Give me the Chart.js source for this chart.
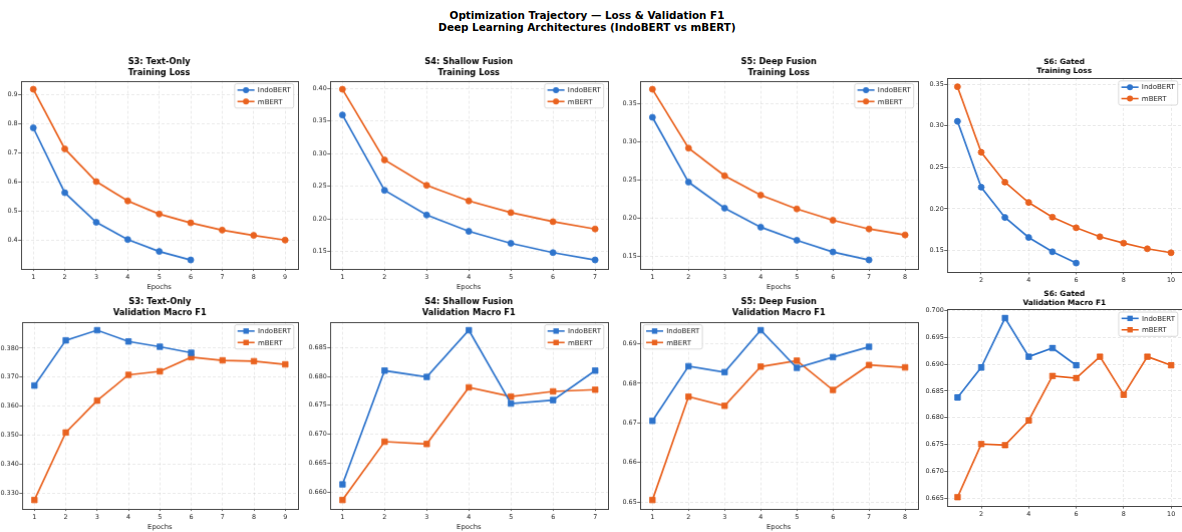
<!DOCTYPE html>
<html>
<head>
<meta charset="utf-8">
<script src="https://cdn.jsdelivr.net/npm/chart.js@4.4.0/dist/chart.umd.min.js"></script>
<style>
  body { margin: 0; background: #fff; width: 1182px; height: 532px; overflow: hidden; position: relative; }
  #sup { position: absolute; left: -4px; top: 9px; width: 1182px; text-align: center;
         font-family: "DejaVu Sans"; font-weight: bold; font-size: 10.4px; line-height: 12px; color: #000; }
  .panel { position: absolute; }
</style>
</head>
<body>
<div id="sup">Optimization Trajectory — Loss &amp; Validation F1<br>Deep Learning Architectures (IndoBERT vs mBERT)</div>
<script>
// epochs per scenario
const s3Epochs = [1, 2, 3, 4, 5, 6, 7, 8, 9];
const s4Epochs = [1, 2, 3, 4, 5, 6, 7];
const s5Epochs = [1, 2, 3, 4, 5, 6, 7, 8];
const s6Epochs = [1, 2, 3, 4, 5, 6, 7, 8, 9, 10];

// training loss
const s3LossIndo = [0.785, 0.563, 0.462, 0.403, 0.362, 0.333];
const s3LossMbert = [0.917, 0.713, 0.601, 0.535, 0.490, 0.460, 0.435, 0.417, 0.401];
const s4LossIndo = [0.3595, 0.2437, 0.2058, 0.1807, 0.1623, 0.1480, 0.1367];
const s4LossMbert = [0.3990, 0.2904, 0.2514, 0.2274, 0.2095, 0.1956, 0.1843];
const s5LossIndo = [0.3317, 0.2472, 0.2133, 0.1885, 0.1714, 0.1561, 0.1457];
const s5LossMbert = [0.3683, 0.2916, 0.2554, 0.2302, 0.2123, 0.1975, 0.1861, 0.1783];
const s6LossIndo = [0.3052, 0.2260, 0.1896, 0.1656, 0.1484, 0.1348];
const s6LossMbert = [0.3468, 0.2680, 0.2320, 0.2076, 0.1900, 0.1772, 0.1664, 0.1588, 0.1520, 0.1472];

// validation macro F1
const s3F1Indo = [0.3671, 0.3827, 0.3862, 0.3823, 0.3805, 0.3784];
const s3F1Mbert = [0.3276, 0.3509, 0.3619, 0.3708, 0.3720, 0.3769, 0.3758, 0.3755, 0.3744];
const s4F1Indo = [0.6613, 0.6810, 0.6799, 0.6880, 0.6753, 0.6759, 0.6810];
const s4F1Mbert = [0.6586, 0.6687, 0.6683, 0.6781, 0.6765, 0.6774, 0.6777];
const s5F1Indo = [0.6705, 0.6843, 0.6828, 0.6934, 0.6839, 0.6866, 0.6892];
const s5F1Mbert = [0.6505, 0.6766, 0.6743, 0.6842, 0.6857, 0.6783, 0.6846, 0.6840];
const s6F1Indo = [0.6838, 0.6894, 0.6986, 0.6914, 0.6930, 0.6898];
const s6F1Mbert = [0.6652, 0.6751, 0.6749, 0.6795, 0.6878, 0.6874, 0.6914, 0.6843, 0.6914, 0.6898];

const seriesNames = ['IndoBERT', 'mBERT'];
const BLUE = '#2e74cc';
const ORANGE = '#e9621f';
const FONT = '"DejaVu Sans"';

const panels = [
  { title: ['S3: Text-Only', 'Training Loss'], ep: s3Epochs, a: s3LossIndo, b: s3LossMbert, mk: 'circle',
    box: [21, 81, 297, 268], yStep: 0.1, dec: 1, xStep: 1, xlabel: true, tSize: 8.3, tPad: 2.5, leg: 'right' },
  { title: ['S4: Shallow Fusion', 'Training Loss'], ep: s4Epochs, a: s4LossIndo, b: s4LossMbert, mk: 'circle',
    box: [330, 81, 607, 268], yStep: 0.05, dec: 2, xStep: 1, xlabel: true, tSize: 8.3, tPad: 2.5, leg: 'right' },
  { title: ['S5: Deep Fusion', 'Training Loss'], ep: s5Epochs, a: s5LossIndo, b: s5LossMbert, mk: 'circle',
    box: [640, 81, 917, 268], yStep: 0.05, dec: 2, xStep: 1, xlabel: true, tSize: 8.3, tPad: 2.5, leg: 'right' },
  { title: ['S6: Gated', 'Training Loss'], ep: s6Epochs, a: s6LossIndo, b: s6LossMbert, mk: 'circle',
    box: [947, 78, 1181, 272], yStep: 0.05, dec: 2, xStep: 2, xlabel: false, tSize: 7.4, tPad: 3, leg: 'right' },
  { title: ['S3: Text-Only', 'Validation Macro F1'], ep: s3Epochs, a: s3F1Indo, b: s3F1Mbert, mk: 'rect',
    box: [22, 322, 297, 508], yStep: 0.01, dec: 3, xStep: 1, xlabel: true, tSize: 8.3, tPad: 3.5, leg: 'right' },
  { title: ['S4: Shallow Fusion', 'Validation Macro F1'], ep: s4Epochs, a: s4F1Indo, b: s4F1Mbert, mk: 'rect',
    box: [330, 322, 607, 508], yStep: 0.005, dec: 3, xStep: 1, xlabel: true, tSize: 8.3, tPad: 3.5, leg: 'right' },
  { title: ['S5: Deep Fusion', 'Validation Macro F1'], ep: s5Epochs, a: s5F1Indo, b: s5F1Mbert, mk: 'rect',
    box: [640, 322, 917, 508], yStep: 0.01, dec: 2, xStep: 1, xlabel: true, tSize: 8.3, tPad: 3.5, leg: 'left' },
  { title: ['S6: Gated', 'Validation Macro F1'], ep: s6Epochs, a: s6F1Indo, b: s6F1Mbert, mk: 'rect',
    box: [947, 309, 1181, 506], yStep: 0.005, dec: 3, xStep: 2, xlabel: false, tSize: 7.4, tPad: 2.2, leg: 'right' }
];

// frame on all four sides + matplotlib-like legend inside the axes
const axesDecor = {
  id: 'axesDecor',
  afterDraw(chart) {
    const o = chart.options.plugins.axesDecor;
    const ctx = chart.ctx, ca = chart.chartArea;
    ctx.save();
    ctx.strokeStyle = '#444';
    ctx.lineWidth = 1;
    ctx.strokeRect(Math.round(ca.left) + 0.5, Math.round(ca.top) + 0.5,
      Math.round(ca.right - ca.left), Math.round(ca.bottom - ca.top));

    ctx.font = '7px ' + FONT;
    const sets = chart.data.datasets;
    const tw = Math.max(...sets.map(d => ctx.measureText(d.label).width));
    const pad = 2.8, handle = 17, gap = 3.2, row = 11.4;
    const w = pad + handle + gap + tw + pad;
    const h = row * sets.length + 1.4;
    const x = o.leg === 'left' ? ca.left + 3.5 : ca.right - 4 - w;
    const y = ca.top + 3;
    ctx.beginPath();
    ctx.roundRect(x, y, w, h, 2);
    ctx.fillStyle = 'rgba(255,255,255,0.85)';
    ctx.fill();
    ctx.strokeStyle = '#d0d0d0';
    ctx.lineWidth = 0.8;
    ctx.stroke();
    sets.forEach((d, i) => {
      const cy = y + 6.3 + i * row;
      const hx = x + pad;
      ctx.strokeStyle = d.borderColor;
      ctx.lineWidth = 1.6;
      ctx.beginPath();
      ctx.moveTo(hx, cy);
      ctx.lineTo(hx + handle, cy);
      ctx.stroke();
      ctx.fillStyle = d.borderColor;
      if (d.pointStyle === 'rect') {
        ctx.fillRect(hx + handle / 2 - 2.7, cy - 2.7, 5.4, 5.4);
      } else {
        ctx.beginPath();
        ctx.arc(hx + handle / 2, cy, 3, 0, Math.PI * 2);
        ctx.fill();
      }
      ctx.fillStyle = '#222';
      ctx.textBaseline = 'middle';
      ctx.fillText(d.label, hx + handle + gap, cy + 0.5);
    });
    ctx.restore();
  }
};

function pad5(lo, hi) {
  const m = (hi - lo) * 0.05;
  return [lo - m, hi + m];
}

function stepTicks(scale, step) {
  const out = [];
  const first = Math.ceil(scale.min / step - 1e-9);
  for (let k = first; k * step <= scale.max + 1e-9; k++) out.push({ value: +(k * step).toFixed(6) });
  scale.ticks = out;
}

panels.forEach(p => {
  const wrap = document.createElement('div');
  wrap.className = 'panel';
  const cv = document.createElement('canvas');
  cv.width = 320;
  cv.height = 260;
  wrap.appendChild(cv);
  document.body.appendChild(wrap);

  const all = p.a.concat(p.b);
  const [ymin, ymax] = pad5(Math.min(...all), Math.max(...all));
  const [xmin, xmax] = pad5(p.ep[0], p.ep[p.ep.length - 1]);
  const mkRadius = p.mk === 'rect' ? 3.9 : 3;

  const makeSet = (label, vals, color) => ({
    label: label,
    data: vals.map((v, i) => ({ x: p.ep[i], y: v })),
    borderColor: color,
    backgroundColor: color,
    borderWidth: 1.7,
    pointStyle: p.mk,
    pointRadius: mkRadius,
    pointBorderWidth: 0.8,
    pointBorderColor: color,
    pointBackgroundColor: color,
    tension: 0,
    fill: false
  });

  const tickFont = { family: FONT, size: 6.4 };
  const labelFont = { family: FONT, size: 6.8 };
  const gridOpts = { color: 'rgba(0,0,0,0.11)', tickColor: '#444', tickLength: 2.5, drawTicks: true, lineWidth: 0.8 };

  const chart = new Chart(cv, {
    type: 'line',
    data: {
      datasets: [
        makeSet(seriesNames[0], p.a, BLUE),
        makeSet(seriesNames[1], p.b, ORANGE)
      ]
    },
    options: {
      responsive: false,
      maintainAspectRatio: false,
      animation: false,
      devicePixelRatio: 1,
      layout: { padding: { left: 0, right: 4, top: 2, bottom: 2 } },
      plugins: {
        legend: { display: false },
        tooltip: { enabled: false },
        title: {
          display: true,
          text: p.title,
          fullSize: false,
          color: '#000',
          font: { family: FONT, size: p.tSize, weight: 'bold', lineHeight: p.tSize > 8 ? 1.27 : 1.14 },
          padding: { top: 0, bottom: p.tPad }
        },
        axesDecor: { leg: p.leg }
      },
      scales: {
        x: {
          type: 'linear',
          min: xmin,
          max: xmax,
          afterBuildTicks: s => stepTicks(s, p.xStep),
          ticks: { font: tickFont, color: '#222', padding: 2, maxRotation: 0, callback: v => String(v) },
          grid: gridOpts,
          border: { display: false, dash: [3, 2] },
          title: { display: p.xlabel, text: 'Epochs', font: labelFont, color: '#222', padding: { top: 0, bottom: 0 } }
        },
        y: {
          type: 'linear',
          min: ymin,
          max: ymax,
          afterBuildTicks: s => stepTicks(s, p.yStep),
          ticks: { font: tickFont, color: '#222', padding: 0.5, callback: v => v.toFixed(p.dec) },
          grid: gridOpts,
          border: { display: false, dash: [3, 2] }
        }
      }
    },
    plugins: [axesDecor]
  });

  // size the canvas so that the plot area lands on the target box
  const ca = chart.chartArea;
  const w = chart.width + (p.box[2] - p.box[0]) - (ca.right - ca.left);
  const h = chart.height + (p.box[3] - p.box[1]) - (ca.bottom - ca.top);
  chart.resize(w, h);
  const c2 = chart.chartArea;
  wrap.style.left = (p.box[0] - c2.left) + 'px';
  wrap.style.top = (p.box[1] - c2.top) + 'px';
});
</script>
</body>
</html>
